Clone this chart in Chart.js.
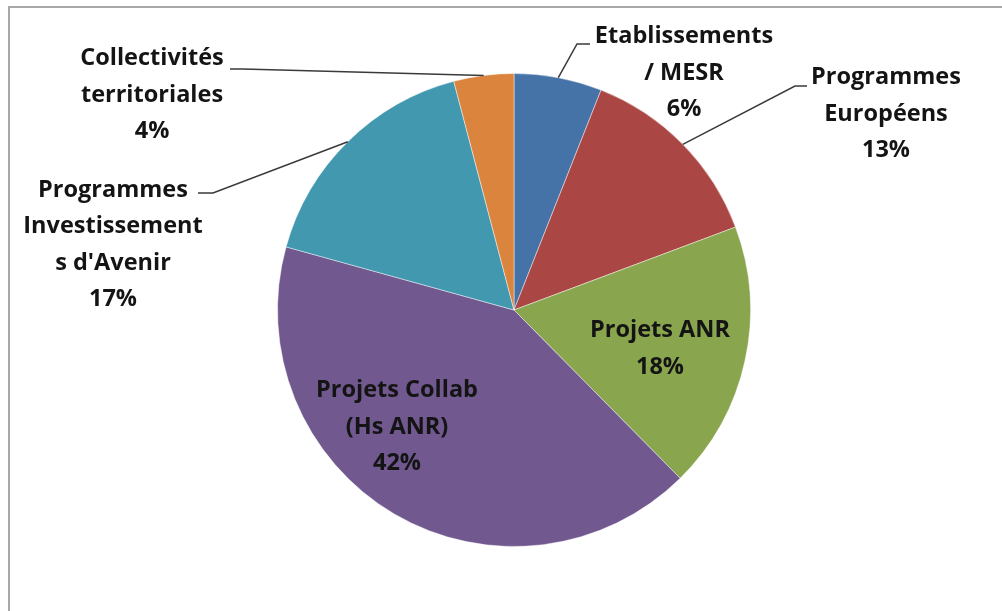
<!DOCTYPE html>
<html>
<head>
<meta charset="utf-8">
<script src="https://cdn.jsdelivr.net/npm/chart.js@4"></script>
<style>
  html, body { margin: 0; padding: 0; background: #fff; }
  #wrap { width: 1002px; height: 611px; position: relative; }
</style>
</head>
<body>
<div id="wrap"><canvas id="myChartFinancement"></canvas></div>
<script>
// --- DONNÉES ---
const categories = [
  'Etablissements / MESR',
  'Programmes Européens',
  'Projets ANR',
  'Projets Collab (Hs ANR)',
  'Programmes Investissements d\'Avenir',
  'Collectivités territoriales'
];
const valeurs = [6.0, 13.3, 18.3, 41.7, 16.6, 4.1];
const etiquettes = [
  ['Etablissements', '/ MESR'],
  ['Programmes', 'Européens'],
  ['Projets ANR'],
  ['Projets Collab', '(Hs ANR)'],
  ['Programmes', 'Investissement', 's d\'Avenir'],
  ['Collectivités', 'territoriales']
];
const couleurs = ['#4572A7', '#AA4643', '#89A54E', '#71588F', '#4198AF', '#DB843D'];

// position des étiquettes (décalage depuis le centre) + coude de la ligne de rappel
const placement = [
  { dx: 170, dy: -237, coude: [63, -266], fin: [76, -266] },
  { dx: 372, dy: -196, coude: [281, -224], fin: [293, -224] },
  { dx: 146, dy: 39 },
  { dx: -117, dy: 117 },
  { dx: -401, dy: -65, coude: [-301, -117], fin: [-316, -117] },
  { dx: -362, dy: -215, coude: [-271, -241], fin: [-284, -241] }
];

const cadre = {
  id: 'cadre',
  beforeDraw(chart) {
    const ctx = chart.ctx;
    ctx.save();
    ctx.fillStyle = '#fff';
    ctx.fillRect(0, 0, chart.width, chart.height);
    ctx.strokeStyle = '#a8a8a8';
    ctx.lineWidth = 2;
    ctx.beginPath();
    ctx.moveTo(chart.width, 7);
    ctx.lineTo(9, 7);
    ctx.lineTo(9, chart.height);
    ctx.stroke();
    ctx.restore();
  }
};

const etiquettesPlugin = {
  id: 'etiquettes',
  afterDraw(chart) {
    const ctx = chart.ctx;
    const meta = chart.getDatasetMeta(0);
    const total = valeurs.reduce((a, b) => a + b, 0);
    ctx.save();
    meta.data.forEach((arc, i) => {
      const p = placement[i];
      const cx = arc.x, cy = arc.y;
      if (p.coude) {
        const mid = (arc.startAngle + arc.endAngle) / 2;
        const r = arc.outerRadius;
        ctx.strokeStyle = '#3a3a3a';
        ctx.lineWidth = 1.5;
        ctx.beginPath();
        ctx.moveTo(cx + Math.cos(mid) * r, cy + Math.sin(mid) * r);
        ctx.lineTo(cx + p.coude[0], cy + p.coude[1]);
        ctx.lineTo(cx + p.fin[0], cy + p.fin[1]);
        ctx.stroke();
      }
      const lignes = etiquettes[i].concat([Math.round(valeurs[i] / total * 100) + '%']);
      const lh = 36.5;
      ctx.font = 'bold 23.5px "Open Sans"';
      ctx.fillStyle = '#141414';
      ctx.textAlign = 'center';
      ctx.textBaseline = 'middle';
      const y0 = cy + p.dy - (lignes.length - 1) * lh / 2;
      lignes.forEach((t, k) => ctx.fillText(t, cx + p.dx, y0 + k * lh));
    });
    ctx.restore();
  }
};

const chartFinancement = document.getElementById('myChartFinancement');

new Chart(chartFinancement, {
  type: 'pie',
  data: {
    labels: categories,
    datasets: [{
      data: valeurs,
      backgroundColor: couleurs,
      borderColor: 'rgba(255,255,255,0.45)',
      borderWidth: 1
    }]
  },
  options: {
    responsive: true,
    maintainAspectRatio: false,
    animation: false,
    layout: { padding: { top: 73, bottom: 64, left: 200, right: 174 } },
    plugins: {
      legend: { display: false },
      tooltip: { enabled: false }
    }
  },
  plugins: [cadre, etiquettesPlugin]
});
</script>
</body>
</html>
